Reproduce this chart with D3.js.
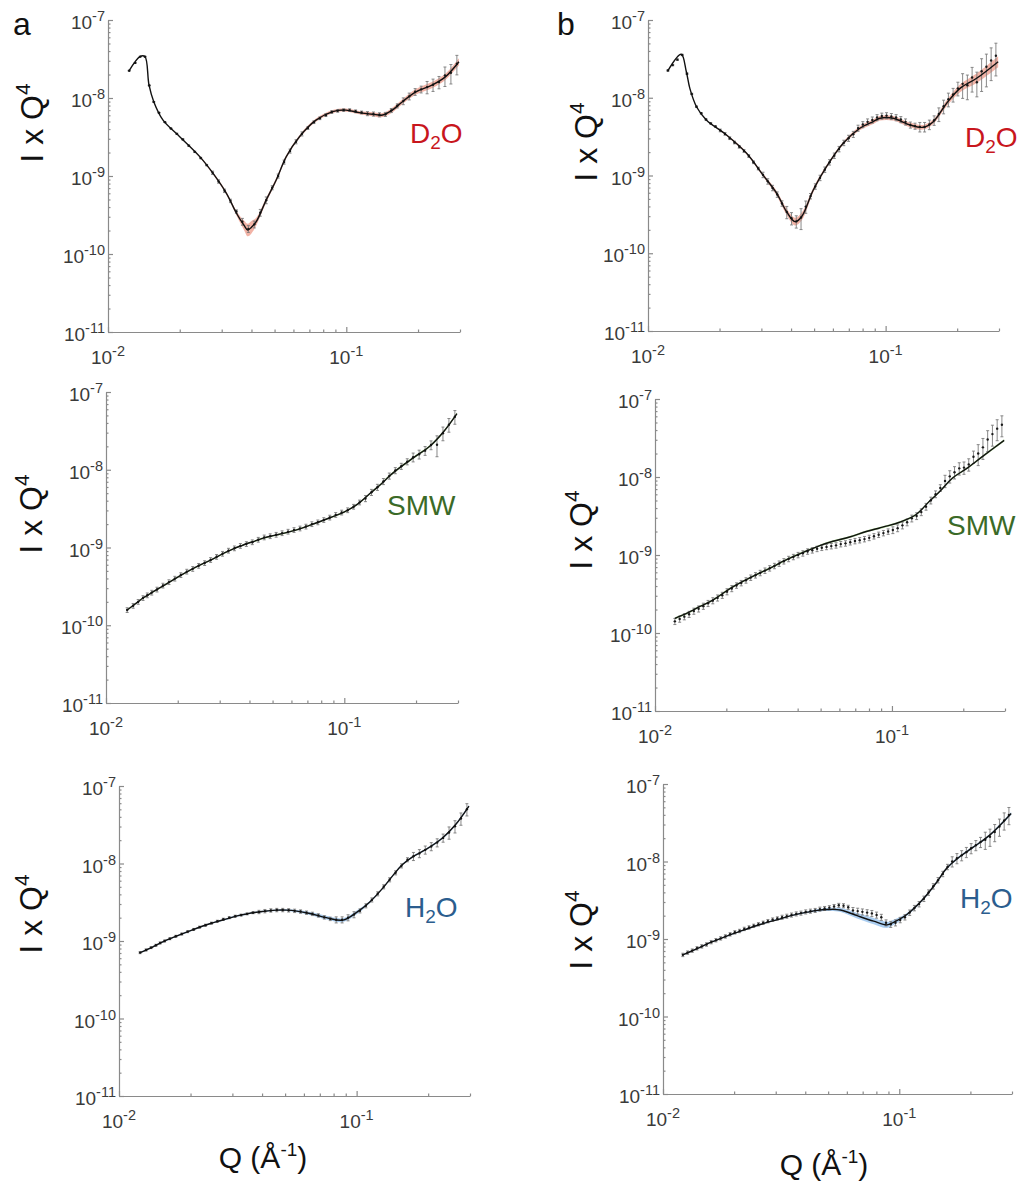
<!DOCTYPE html>
<html>
<head>
<meta charset="utf-8">
<script src="https://cdn.jsdelivr.net/npm/d3@7"></script>
<style>
  body { margin: 0; background: #fff; }
  svg { display: block; font-family: "Liberation Sans", Arial, sans-serif; }
</style>
</head>
<body>
<svg id="fig" width="1026" height="1182"></svg>
<script>
// ---------- Q grids (Å^-1) ----------
const qA = [0.01227,0.01300,0.01365,0.01430,0.01490,0.01556,0.01637,0.01734,0.01837,0.01945,
  0.02061,0.02183,0.02312,0.02449,0.02594,0.02748,0.02911,0.03083,0.03266,0.03459,
  0.03664,0.03882,0.04111,0.04355,0.04613,0.04887,0.05176,0.05483,0.05808,0.06152,
  0.06516,0.06902,0.07311,0.07745,0.08204,0.08690,0.09204,0.09750,0.1033,0.1094,
  0.1159,0.1227,0.1300,0.1377,0.1459,0.1545,0.1637,0.1734,0.1837,0.1945,
  0.2061,0.2183,0.2312,0.2449,0.2594,0.2748,0.2911];

const qB = [0.01213,0.01271,0.01330,0.01393,0.01459,0.01528,0.01600,0.01675,0.01754,0.01837,
  0.01923,0.02014,0.02109,0.02208,0.02312,0.02421,0.02535,0.02655,0.02780,0.02911,
  0.03048,0.03192,0.03342,0.03499,0.03664,0.03837,0.04018,0.04207,0.04406,0.04613,
  0.04831,0.05058,0.05297,0.05546,0.05808,0.06081,0.06368,0.06668,0.06982,0.07311,
  0.07656,0.08017,0.08395,0.08790,0.09204,0.09638,0.1009,0.1057,0.1107,0.1159,
  0.1213,0.1271,0.1330,0.1393,0.1459,0.1528,0.1600,0.1675,0.1754,0.1837,
  0.1923,0.2014,0.2109,0.2208,0.2312,0.2421,0.2535,0.2655,0.2780,0.2911];

// ---------- measured I x Q^4, column a ----------
const d2oA = [2.24e-8,2.82e-8,3.39e-8,3.39e-8,1.45e-8,8.91e-9,6.46e-9,4.90e-9,4.07e-9,3.47e-9,
  2.95e-9,2.45e-9,2.04e-9,1.70e-9,1.38e-9,1.10e-9,8.51e-10,6.46e-10,4.80e-10,3.50e-10,
  2.60e-10,2.10e-10,2.40e-10,3.39e-10,4.90e-10,7.08e-10,1.00e-9,1.51e-9,2.09e-9,2.75e-9,
  3.47e-9,4.12e-9,4.90e-9,5.50e-9,6.03e-9,6.61e-9,6.84e-9,7.00e-9,7.00e-9,6.76e-9,
  6.53e-9,6.31e-9,6.24e-9,6.10e-9,6.17e-9,6.92e-9,7.94e-9,9.12e-9,1.05e-8,1.20e-8,
  1.29e-8,1.38e-8,1.48e-8,1.60e-8,1.95e-8,2.10e-8,2.75e-8];
const errD2oA = [0.01,0.01,0.01,0.01,0.01,0.01,0.01,0.01,0.01,0.02,
  0.02,0.02,0.02,0.02,0.02,0.05,0.05,0.05,0.05,0.05,
  0.10,0.10,0.10,0.10,0.10,0.06,0.06,0.06,0.06,0.06,
  0.06,0.04,0.04,0.04,0.04,0.04,0.04,0.04,0.04,0.04,
  0.04,0.06,0.06,0.06,0.06,0.06,0.06,0.10,0.10,0.10,
  0.10,0.18,0.18,0.18,0.28,0.28,0.28];

const smwA = [1.57e-10,1.78e-10,2.00e-10,2.24e-10,2.43e-10,2.63e-10,2.88e-10,3.24e-10,3.59e-10,3.98e-10,
  4.42e-10,4.90e-10,5.31e-10,5.82e-10,6.31e-10,6.92e-10,7.59e-10,8.32e-10,9.12e-10,9.77e-10,
  1.05e-9,1.11e-9,1.17e-9,1.26e-9,1.35e-9,1.40e-9,1.46e-9,1.53e-9,1.60e-9,1.68e-9,
  1.76e-9,1.86e-9,2.00e-9,2.11e-9,2.26e-9,2.43e-9,2.63e-9,2.82e-9,3.02e-9,3.35e-9,
  3.80e-9,4.27e-9,5.13e-9,5.96e-9,7.08e-9,8.32e-9,9.77e-9,1.11e-8,1.27e-8,1.45e-8,
  1.58e-8,1.76e-8,2.08e-8,2.10e-8,2.95e-8,3.80e-8,4.81e-8];
const errSmwA = [0.07,0.07,0.07,0.07,0.07,0.07,0.07,0.07,0.07,0.07,
  0.07,0.07,0.07,0.07,0.07,0.07,0.07,0.07,0.07,0.07,
  0.07,0.07,0.07,0.07,0.07,0.07,0.07,0.07,0.07,0.07,
  0.07,0.07,0.07,0.07,0.07,0.07,0.07,0.07,0.07,0.07,
  0.07,0.09,0.09,0.09,0.09,0.09,0.09,0.09,0.09,0.13,
  0.13,0.13,0.13,0.30,0.20,0.20,0.20];

const h2oA = [7.08e-10,7.67e-10,8.22e-10,8.81e-10,9.44e-10,1.00e-9,1.07e-9,1.15e-9,1.23e-9,1.32e-9,
  1.41e-9,1.51e-9,1.60e-9,1.70e-9,1.80e-9,1.91e-9,2.00e-9,2.09e-9,2.16e-9,2.24e-9,
  2.32e-9,2.37e-9,2.43e-9,2.48e-9,2.51e-9,2.51e-9,2.49e-9,2.45e-9,2.40e-9,2.32e-9,
  2.24e-9,2.14e-9,2.02e-9,1.93e-9,1.88e-9,1.88e-9,2.00e-9,2.19e-9,2.45e-9,2.85e-9,
  3.39e-9,4.07e-9,5.01e-9,6.17e-9,7.59e-9,9.33e-9,1.12e-8,1.24e-8,1.35e-8,1.50e-8,
  1.66e-8,1.86e-8,2.14e-8,2.51e-8,3.02e-8,3.80e-8,5.01e-8];
const errH2oA = [0.03,0.03,0.03,0.03,0.03,0.03,0.03,0.03,0.03,0.03,
  0.03,0.03,0.03,0.03,0.03,0.03,0.03,0.03,0.03,0.03,
  0.03,0.05,0.05,0.05,0.05,0.05,0.05,0.05,0.05,0.05,
  0.05,0.05,0.05,0.05,0.09,0.09,0.09,0.09,0.06,0.06,
  0.06,0.06,0.06,0.06,0.06,0.06,0.06,0.12,0.12,0.12,
  0.12,0.12,0.12,0.18,0.18,0.18,0.18];

// ---------- measured I x Q^4, column b ----------
const d2oB = [2.24e-8,2.63e-8,3.09e-8,3.55e-8,2.04e-8,1.12e-8,7.67e-9,6.31e-9,5.25e-9,4.68e-9,
  4.27e-9,3.80e-9,3.43e-9,3.02e-9,2.66e-9,2.34e-9,2.07e-9,1.78e-9,1.48e-9,1.23e-9,
  1.02e-9,8.41e-10,6.92e-10,5.69e-10,4.37e-10,3.39e-10,2.82e-10,2.57e-10,2.88e-10,3.98e-10,
  5.43e-10,7.24e-10,9.33e-10,1.19e-9,1.48e-9,1.80e-9,2.19e-9,2.63e-9,3.02e-9,3.39e-9,
  4.07e-9,4.52e-9,4.90e-9,5.19e-9,5.56e-9,5.82e-9,5.89e-9,5.75e-9,5.56e-9,5.25e-9,
  4.90e-9,4.47e-9,4.32e-9,4.22e-9,4.22e-9,4.52e-9,5.13e-9,6.17e-9,7.76e-9,9.55e-9,
  1.10e-8,1.32e-8,1.51e-8,1.45e-8,1.82e-8,1.58e-8,2.19e-8,2.51e-8,3.02e-8,3.47e-8];
const errD2oB = [0.02,0.02,0.02,0.02,0.02,0.02,0.02,0.02,0.02,0.02,
  0.02,0.04,0.04,0.04,0.04,0.04,0.04,0.04,0.04,0.04,
  0.08,0.08,0.08,0.08,0.08,0.18,0.18,0.18,0.30,0.18,
  0.08,0.08,0.08,0.08,0.08,0.08,0.08,0.08,0.09,0.09,
  0.09,0.09,0.09,0.09,0.09,0.09,0.09,0.09,0.09,0.09,
  0.09,0.09,0.09,0.14,0.14,0.14,0.14,0.20,0.20,0.20,
  0.20,0.20,0.35,0.35,0.35,0.35,0.45,0.45,0.45,0.45];

const smwB = [1.41e-10,1.51e-10,1.62e-10,1.74e-10,1.91e-10,2.04e-10,2.21e-10,2.40e-10,2.60e-10,2.82e-10,
  3.05e-10,3.39e-10,3.72e-10,4.07e-10,4.37e-10,4.73e-10,5.13e-10,5.50e-10,5.89e-10,6.31e-10,
  6.76e-10,7.24e-10,7.76e-10,8.32e-10,8.91e-10,9.44e-10,1.00e-9,1.05e-9,1.11e-9,1.15e-9,
  1.20e-9,1.24e-9,1.27e-9,1.30e-9,1.33e-9,1.38e-9,1.41e-9,1.46e-9,1.51e-9,1.55e-9,
  1.60e-9,1.66e-9,1.74e-9,1.82e-9,1.91e-9,2.00e-9,2.09e-9,2.21e-9,2.40e-9,2.63e-9,
  2.95e-9,3.16e-9,3.55e-9,4.17e-9,5.01e-9,6.03e-9,7.24e-9,8.91e-9,1.02e-8,1.15e-8,
  1.29e-8,1.32e-8,1.45e-8,1.82e-8,2.00e-8,2.40e-8,3.02e-8,3.55e-8,4.17e-8,4.68e-8];
const errSmwB = [0.09,0.09,0.09,0.09,0.09,0.09,0.09,0.09,0.09,0.09,
  0.09,0.09,0.09,0.08,0.08,0.08,0.08,0.08,0.08,0.08,
  0.08,0.08,0.08,0.08,0.08,0.08,0.08,0.08,0.08,0.08,
  0.08,0.08,0.08,0.08,0.08,0.08,0.08,0.08,0.08,0.08,
  0.08,0.08,0.08,0.08,0.08,0.08,0.10,0.10,0.10,0.10,
  0.10,0.10,0.10,0.10,0.10,0.10,0.10,0.18,0.18,0.18,
  0.18,0.18,0.18,0.18,0.30,0.30,0.30,0.30,0.30,0.30];

const h2oB = [6.24e-10,6.68e-10,7.08e-10,7.59e-10,8.04e-10,8.51e-10,9.12e-10,9.66e-10,1.02e-9,1.08e-9,
  1.15e-9,1.22e-9,1.27e-9,1.35e-9,1.41e-9,1.48e-9,1.55e-9,1.62e-9,1.70e-9,1.78e-9,
  1.84e-9,1.91e-9,1.97e-9,2.04e-9,2.11e-9,2.16e-9,2.24e-9,2.29e-9,2.34e-9,2.43e-9,
  2.48e-9,2.54e-9,2.63e-9,2.72e-9,2.69e-9,2.57e-9,2.34e-9,2.29e-9,2.24e-9,2.19e-9,
  2.14e-9,2.04e-9,1.91e-9,1.62e-9,1.55e-9,1.62e-9,1.76e-9,1.91e-9,2.19e-9,2.51e-9,
  2.82e-9,3.31e-9,3.98e-9,4.79e-9,5.75e-9,6.92e-9,8.51e-9,1.00e-8,1.10e-8,1.20e-8,
  1.32e-8,1.48e-8,1.62e-8,1.78e-8,1.91e-8,2.09e-8,2.40e-8,2.82e-8,3.39e-8,3.98e-8];
const errH2oB = [0.05,0.05,0.05,0.05,0.05,0.05,0.05,0.05,0.05,0.05,
  0.05,0.05,0.05,0.05,0.05,0.05,0.05,0.05,0.05,0.05,
  0.05,0.06,0.06,0.06,0.06,0.06,0.06,0.06,0.06,0.06,
  0.06,0.06,0.06,0.06,0.06,0.06,0.09,0.09,0.09,0.09,
  0.09,0.09,0.09,0.09,0.09,0.09,0.08,0.08,0.08,0.08,
  0.08,0.08,0.08,0.08,0.08,0.08,0.08,0.15,0.15,0.15,
  0.15,0.15,0.15,0.15,0.25,0.25,0.25,0.25,0.25,0.25];

// ---------- model fits (knots) and band half-widths (decades) ----------
const fitQA = [0.01227,0.01362,0.01428,0.01486,0.01556,0.01702,0.0200,0.02427,0.0276,0.0314,
  0.0346,0.0372,0.0386,0.0400,0.0419,0.0461,0.0508,0.0560,0.0636,0.0746,
  0.0877,0.0997,0.1133,0.1288,0.1420,0.1560,0.1720,0.1960,0.2298,0.2610,0.2970];
const fitD2oA = [2.24e-8,3.40e-8,3.40e-8,1.47e-8,8.97e-9,5.20e-9,3.19e-9,1.77e-9,1.08e-9,6.00e-10,
  3.33e-10,2.34e-10,2.03e-10,2.21e-10,2.60e-10,4.90e-10,8.90e-10,1.77e-9,3.19e-9,5.20e-9,
  6.70e-9,7.00e-9,6.50e-9,6.20e-9,6.05e-9,7.00e-9,8.97e-9,1.20e-8,1.47e-8,1.88e-8,2.92e-8];
const bandD2oA = [0,0,0,0,0,0,0,0.01,0.015,0.02,
  0.03,0.06,0.08,0.08,0.05,0.03,0.025,0.02,0.02,0.02,
  0.02,0.02,0.02,0.025,0.025,0.03,0.03,0.035,0.04,0.04,0.045];
const fitSmwA = [1.57e-10,2.00e-10,2.24e-10,2.40e-10,2.63e-10,3.09e-10,4.16e-10,5.75e-10,6.92e-10,8.51e-10,
  9.77e-10,1.06e-9,1.11e-9,1.15e-9,1.20e-9,1.33e-9,1.43e-9,1.53e-9,1.70e-9,2.02e-9,
  2.43e-9,2.85e-9,3.59e-9,5.01e-9,6.46e-9,8.51e-9,1.08e-8,1.44e-8,2.04e-8,3.08e-8,5.27e-8];
const bandSmwA = [0.01,0.01,0.01,0.01,0.01,0.01,0.01,0.01,0.01,0.01,
  0.01,0.01,0.01,0.01,0.01,0.01,0.01,0.01,0.01,0.01,
  0.01,0.01,0.012,0.012,0.012,0.015,0.015,0.015,0.015,0.015,0.015];
const fitH2oA = [7.08e-10,8.13e-10,8.81e-10,9.33e-10,1.00e-9,1.12e-9,1.36e-9,1.68e-9,1.88e-9,2.11e-9,
  2.24e-9,2.33e-9,2.37e-9,2.40e-9,2.44e-9,2.50e-9,2.50e-9,2.43e-9,2.26e-9,2.00e-9,
  1.86e-9,2.32e-9,3.16e-9,4.81e-9,6.98e-9,9.70e-9,1.22e-8,1.52e-8,2.13e-8,3.18e-8,5.51e-8];
const bandH2oA = [0.01,0.01,0.01,0.01,0.01,0.01,0.01,0.01,0.01,0.01,
  0.01,0.01,0.01,0.01,0.01,0.01,0.012,0.015,0.02,0.025,
  0.025,0.025,0.015,0.012,0.012,0.012,0.012,0.012,0.012,0.015,0.015];

const fitQB = [0.01213,0.0138,0.0145,0.0150,0.0160,0.0176,0.0214,0.0260,0.0305,0.0348,
  0.0383,0.0415,0.0443,0.0496,0.0564,0.0663,0.0779,0.0887,0.0946,0.1077,
  0.1265,0.1440,0.1587,0.1807,0.2056,0.2415,0.2976];
const fitD2oB = [2.23e-8,3.62e-8,2.16e-8,1.32e-8,7.67e-9,5.18e-9,3.32e-9,1.93e-9,1.01e-9,5.90e-10,
  3.42e-10,2.55e-10,2.95e-10,6.50e-10,1.30e-9,2.60e-9,4.05e-9,4.93e-9,5.45e-9,5.45e-9,
  4.47e-9,4.17e-9,4.92e-9,8.50e-9,1.32e-8,1.78e-8,2.91e-8];
const bandD2oB = [0,0,0,0,0,0,0.01,0.015,0.02,0.03,
  0.04,0.05,0.05,0.03,0.02,0.02,0.025,0.03,0.03,0.03,
  0.03,0.03,0.03,0.04,0.05,0.06,0.07];
const fitSmwB = [1.54e-10,1.82e-10,1.97e-10,2.09e-10,2.29e-10,2.66e-10,3.94e-10,5.37e-10,6.76e-10,8.32e-10,
  9.55e-10,1.06e-9,1.15e-9,1.32e-9,1.50e-9,1.70e-9,2.00e-9,2.22e-9,2.34e-9,2.63e-9,
  3.31e-9,4.90e-9,6.46e-9,9.77e-9,1.27e-8,1.84e-8,2.95e-8];
const bandSmwB = [0.012,0.012,0.012,0.012,0.012,0.012,0.012,0.012,0.012,0.012,
  0.012,0.012,0.012,0.012,0.012,0.012,0.012,0.012,0.012,0.012,
  0.012,0.012,0.012,0.012,0.012,0.015,0.015];
const fitH2oB = [6.24e-10,7.41e-10,7.94e-10,8.32e-10,9.12e-10,1.02e-9,1.27e-9,1.55e-9,1.78e-9,2.00e-9,
  2.14e-9,2.24e-9,2.32e-9,2.40e-9,2.37e-9,2.00e-9,1.70e-9,1.52e-9,1.64e-9,2.07e-9,
  3.30e-9,5.40e-9,8.17e-9,1.16e-8,1.53e-8,2.19e-8,4.17e-8];
const bandH2oB = [0.008,0.008,0.008,0.008,0.008,0.008,0.01,0.01,0.01,0.01,
  0.012,0.012,0.015,0.02,0.025,0.035,0.04,0.04,0.035,0.02,
  0.015,0.015,0.015,0.015,0.015,0.015,0.02];

// ---------- axis tick labels (powers of ten) ----------
const yTickExps = [-11, -10, -9, -8, -7];
const xTickExps = [-2, -1];
const qDomain = [0.01, 0.3];
const iDomain = [1e-11, 1e-7];

// ---------- panel layout ----------
const panels = [
  { box: [108, 20, 460, 332], q: qA, v: d2oA, e: errD2oA, fq: fitQA, f: fitD2oA, b: bandD2oA,
    label: ["D", "2", "O"], color: "#c8161d", band: "#f0a696", labelAt: [410, 143], ylab: [43, 123] },
  { box: [648, 20, 999, 331], q: qB, v: d2oB, e: errD2oB, fq: fitQB, f: fitD2oB, b: bandD2oB,
    label: ["D", "2", "O"], color: "#c8161d", band: "#f0a696", labelAt: [965, 147], ylab: [597, 142] },
  { box: [106, 392, 458, 703], q: qA, v: smwA, e: errSmwA, fq: fitQA, f: fitSmwA, b: bandSmwA,
    label: ["SMW"], color: "#3b6a27", band: "#9fd67f", labelAt: [387, 515], ylab: [42, 514] },
  { box: [655, 399, 1005, 711], q: qB, v: smwB, e: errSmwB, fq: fitQB, f: fitSmwB, b: bandSmwB,
    label: ["SMW"], color: "#3b6a27", band: "#9fd67f", labelAt: [947, 535], ylab: [592, 530] },
  { box: [119, 786, 470, 1096], q: qA, v: h2oA, e: errH2oA, fq: fitQA, f: fitH2oA, b: bandH2oA,
    label: ["H", "2", "O"], color: "#2b5d8e", band: "#9cc6ee", labelAt: [405, 917], ylab: [42, 914] },
  { box: [663, 784, 1012, 1094], q: qB, v: h2oB, e: errH2oB, fq: fitQB, f: fitH2oB, b: bandH2oB,
    label: ["H", "2", "O"], color: "#2b5d8e", band: "#9cc6ee", labelAt: [960, 908], ylab: [592, 930] }
];

const svg = d3.select("#fig");
const axisGrey = "#8a8a8a";
const tickText = "#3a3a3a";
const isDecade = d => Math.abs(Math.log10(d) - Math.round(Math.log10(d))) < 1e-6;
const smooth = d3.curveCatmullRom.alpha(0.5);

function powerLabel(text, exp, base, sup) {
  text.append("tspan").text("10");
  text.append("tspan").attr("font-size", sup).attr("dy", -0.42 * base).text("-" + Math.abs(exp));
}

panels.forEach(p => {
  const [x0, y0, x1, y1] = p.box;
  const x = d3.scaleLog().domain(qDomain).range([x0, x1]);
  const y = d3.scaleLog().domain(iDomain).range([y1, y0]);
  const g = svg.append("g");

  // axes (ticks pointing inward)
  const ya = g.append("g").attr("transform", `translate(${x0},0)`)
    .call(d3.axisLeft(y).tickValues(y.ticks()).tickFormat("").tickSizeInner(-2.5).tickSizeOuter(0));
  ya.selectAll(".tick line").attr("x2", d => isDecade(d) ? 5 : 2.5);
  const xa = g.append("g").attr("transform", `translate(0,${y1})`)
    .call(d3.axisBottom(x).tickValues(x.ticks()).tickFormat("").tickSizeInner(-2.5).tickSizeOuter(0));
  xa.selectAll(".tick line").attr("y2", d => isDecade(d) ? -5 : -2.5);
  g.selectAll(".domain, .tick line").attr("stroke", axisGrey).attr("stroke-width", 1.2);

  yTickExps.forEach(ex => {
    const t = g.append("text").attr("x", x0 - 3).attr("y", y(Math.pow(10, ex)) + 9)
      .attr("text-anchor", "end").attr("font-size", 19).attr("fill", tickText);
    powerLabel(t, ex, 19, 14.5);
  });
  xTickExps.forEach(ex => {
    const t = g.append("text").attr("x", x(Math.pow(10, ex))).attr("y", y1 + 32)
      .attr("text-anchor", "middle").attr("font-size", 19).attr("fill", tickText);
    powerLabel(t, ex, 19, 14.5);
  });

  // uncertainty band around the model
  const knots = p.fq.map((q, i) => ({ q, f: p.f[i], b: p.b[i] }));
  g.append("path").datum(knots)
    .attr("d", d3.area().curve(smooth)
      .x(d => x(d.q))
      .y0(d => y(d.f * Math.pow(10, -d.b)))
      .y1(d => y(d.f * Math.pow(10, d.b))))
    .attr("fill", p.band).attr("opacity", 0.85);

  // measured points with error bars
  const pts = p.q.map((q, i) => ({ q, v: p.v[i], e: p.e[i] }));
  const eb = g.append("g").attr("stroke", "#7c7c7c").attr("stroke-width", 0.9);
  pts.forEach(d => {
    const cx = x(d.q), lo = y(d.v * (1 - d.e)), hi = y(d.v * (1 + d.e));
    eb.append("line").attr("x1", cx).attr("x2", cx).attr("y1", lo).attr("y2", hi);
    eb.append("line").attr("x1", cx - 1.5).attr("x2", cx + 1.5).attr("y1", lo).attr("y2", lo);
    eb.append("line").attr("x1", cx - 1.5).attr("x2", cx + 1.5).attr("y1", hi).attr("y2", hi);
  });
  g.append("g").selectAll("circle").data(pts).join("circle")
    .attr("cx", d => x(d.q)).attr("cy", d => y(d.v)).attr("r", 1.2).attr("fill", "#1a1a1a");

  // model curve
  g.append("path").datum(knots)
    .attr("d", d3.line().curve(smooth).x(d => x(d.q)).y(d => y(d.f)))
    .attr("fill", "none").attr("stroke", "#111").attr("stroke-width", 1.4);

  // sample label
  const lt = g.append("text").attr("x", p.labelAt[0]).attr("y", p.labelAt[1])
    .attr("font-size", 28).attr("fill", p.color);
  if (p.label.length === 3) {
    lt.append("tspan").text(p.label[0]);
    lt.append("tspan").attr("font-size", 19).attr("dy", 6).text(p.label[1]);
    lt.append("tspan").attr("dy", -6).text(p.label[2]);
  } else {
    lt.text(p.label[0]);
  }

  // y-axis title
  const yt = g.append("text")
    .attr("transform", `translate(${p.ylab[0]},${p.ylab[1]}) rotate(-90)`)
    .attr("text-anchor", "middle").attr("font-size", 32).attr("fill", "#111");
  yt.append("tspan").text("I x Q");
  yt.append("tspan").attr("font-size", 21).attr("dy", -13).text("4");
});

// x-axis titles
[[263, 1168], [824, 1175]].forEach(([cx, by]) => {
  const t = svg.append("text").attr("x", cx).attr("y", by).attr("text-anchor", "middle")
    .attr("font-size", 30).attr("fill", "#111");
  t.append("tspan").text("Q (Å");
  t.append("tspan").attr("font-size", 19).attr("dy", -12).text("-1");
  t.append("tspan").attr("dy", 12).text(")");
});

// panel letters
svg.append("text").attr("x", 13).attr("y", 35).attr("font-size", 32).attr("fill", "#111").text("a");
svg.append("text").attr("x", 557).attr("y", 35).attr("font-size", 32).attr("fill", "#111").text("b");
</script>
</body>
</html>
